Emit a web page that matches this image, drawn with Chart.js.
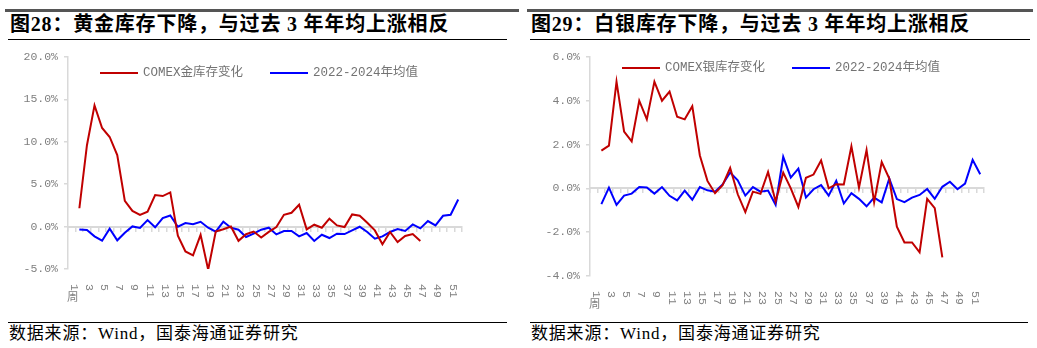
<!DOCTYPE html>
<html>
<head>
<meta charset="utf-8">
<script src="https://cdn.jsdelivr.net/npm/chart.js@4.4.1/dist/chart.umd.min.js"></script>
<style>
  body { margin: 0; background: #fff; }
  #page { position: relative; width: 1037px; height: 348px; overflow: hidden; background: #fff; }
  .topbar { position: absolute; top: 9px; height: 3px; background: #555; }
  .title { position: absolute; top: 11px; font: bold 20px "Liberation Serif", "Noto Sans CJK SC", serif; color: #000; white-space: nowrap; line-height: 26px; letter-spacing: 0.8px; }
  .rule { position: absolute; height: 1px; background: #000; }
  .source { position: absolute; top: 323px; font: 17px "Liberation Serif", "Noto Sans CJK SC", serif; color: #000; white-space: nowrap; line-height: 22px; letter-spacing: 0.8px; }
  canvas { position: absolute; top: 44px; }
</style>
</head>
<body>
<div id="page">
  <div class="topbar" style="left:5px;width:514px"></div>
  <div class="topbar" style="left:527px;width:506px"></div>
  <div class="title" style="left:10px">图28：黄金库存下降，与过去 3 年年均上涨相反</div>
  <div class="title" style="left:531px">图29：白银库存下降，与过去 3 年年均上涨相反</div>
  <div class="rule" style="left:8px;width:499px;top:39px"></div>
  <div class="rule" style="left:530px;width:500px;top:39px"></div>
  <canvas id="gold" width="518" height="272" style="left:0"></canvas>
  <canvas id="silver" width="519" height="272" style="left:518px"></canvas>
  <div class="rule" style="left:8px;width:499px;top:322px"></div>
  <div class="rule" style="left:530px;width:498px;top:322px"></div>
  <div class="source" style="left:9px">数据来源：Wind，国泰海通证券研究</div>
  <div class="source" style="left:531px">数据来源：Wind，国泰海通证券研究</div>
</div>
<script>
// week categories (week 1 has no reading)
const weeks = ['1周', '2', '3', '4', '5', '6', '7', '8', '9', '10', '11', '12', '13',
  '14', '15', '16', '17', '18', '19', '20', '21', '22', '23', '24', '25', '26',
  '27', '28', '29', '30', '31', '32', '33', '34', '35', '36', '37', '38', '39',
  '40', '41', '42', '43', '44', '45', '46', '47', '48', '49', '50', '51', '52'];

// gold inventory weekly change, %
const goldChange = [null, 2.16, 9.59, 14.28, 11.62, 10.56, 8.42, 3.02, 1.84, 1.37,
  1.76, 3.72, 3.60, 4.03, -1.06, -2.93, -3.40, -0.97, -5.08, -0.59, -0.31, 0.00,
  -1.68, -0.90, -0.59, -1.29, -0.62, -0.05, 1.39, 1.63, 2.57, -0.33, 0.22, -0.13,
  0.93, 0.14, -0.06, 1.43, 1.28, 0.46, -0.45, -2.09, -0.64, -1.82, -1.11, -0.88, -1.70];
const goldAvg = [null, -0.33, -0.41, -1.15, -1.66, -0.25, -1.62, -0.72, 0.02, -0.17,
  0.77, -0.09, 1.00, 1.31, -0.02, 0.41, 0.29, 0.57, -0.13, -0.60, 0.57, -0.13,
  -0.37, -1.23, -0.84, -0.37, -0.13, -0.92, -0.52, -0.52, -1.15, -0.76, -1.70,
  -0.96, -1.35, -0.84, -0.88, -0.45, -0.02, -0.64, -1.43, -1.15, -0.64, -0.29,
  -0.52, 0.26, -0.21, 0.65, 0.14, 1.27, 1.39, 3.19];

// silver inventory weekly change, %
const silverChange = [null, 1.72, 1.95, 4.87, 2.59, 2.14, 4.00, 3.15, 4.87, 4.00,
  4.42, 3.27, 3.15, 3.75, 1.50, 0.34, -0.22, 0.15, 0.93, -0.27, -1.08, -0.15,
  -0.25, 0.75, -0.60, 0.72, 0.00, -0.85, 0.48, 0.63, 1.27, 0.00, 0.19, 0.18,
  1.92, 0.03, 1.75, -0.63, 1.20, 0.45, -1.75, -2.47, -2.47, -2.92, -0.48, -0.90, -3.15];
const silverAvg = [null, -0.72, 0.03, -0.75, -0.33, -0.24, 0.06, 0.04, -0.24, 0.06,
  -0.34, -0.55, -0.10, -0.52, 0.06, -0.09, -0.15, 0.18, 0.72, 0.37, -0.33, 0.06,
  -0.15, -0.10, -0.75, 1.44, 0.49, 0.90, -0.42, -0.04, 0.15, -0.33, 0.34, -0.69,
  -0.22, -0.48, -0.82, -0.42, -0.64, 0.45, -0.49, -0.63, -0.42, -0.30, -0.03,
  -0.48, 0.07, 0.30, -0.04, 0.22, 1.30, 0.64];

const RED = '#c00000';
const BLUE = '#0000ff';
const AXIS_GREY = '#d9d9d9';
const TEXT_GREY = '#7f7f7f';
const MONO = '"Liberation Mono", "Noto Sans CJK SC", monospace';

// legend sitting inside the plot area
const insideLegend = {
  id: 'insideLegend',
  afterDatasetsDraw(chart, args, opts) {
    const ctx = chart.ctx;
    const area = chart.chartArea;
    let x = area.left + opts.left;
    const y = area.top + opts.top;
    ctx.save();
    ctx.font = '12.5px ' + MONO;
    ctx.textBaseline = 'middle';
    ctx.fillStyle = '#737373';
    chart.data.datasets.forEach(ds => {
      ctx.strokeStyle = ds.borderColor;
      ctx.lineWidth = ds.borderWidth;
      ctx.beginPath();
      ctx.moveTo(x, y);
      ctx.lineTo(x + 38, y);
      ctx.stroke();
      x += 43;
      ctx.fillText(ds.label, x, y);
      x += ctx.measureText(ds.label).width + 27;
    });
    ctx.restore();
  }
};

// vertical week labels under the plot, every other week
const weekLabels = {
  id: 'weekLabels',
  afterDraw(chart) {
    const xs = chart.scales.x;
    const ctx = chart.ctx;
    const top = chart.chartArea.bottom + 15;
    ctx.save();
    ctx.font = '11.5px ' + MONO;
    ctx.fillStyle = TEXT_GREY;
    chart.data.labels.forEach((lab, i) => {
      if (i % 2) return;
      const px = xs.getPixelForValue(i) + 2;
      const digits = lab.replace('周', '');
      ctx.save();
      ctx.translate(px, top);
      ctx.rotate(Math.PI / 2);
      ctx.textAlign = 'left';
      ctx.textBaseline = 'middle';
      ctx.fillText(digits, 0, 0);
      const w = ctx.measureText(digits).width;
      ctx.restore();
      if (lab.endsWith('周')) {
        ctx.textAlign = 'center';
        ctx.textBaseline = 'top';
        ctx.fillText('周', px - 1, top + w + 1);
      }
    });
    ctx.restore();
  }
};

function makeChart(canvas, changeLabel, change, avg, box) {
  return new Chart(canvas, {
    type: 'line',
    data: {
      labels: weeks,
      datasets: [
        { label: changeLabel, data: change, borderColor: RED, backgroundColor: RED,
          borderWidth: 2, pointRadius: 0, tension: 0, xAxisID: 'x' },
        { label: '2022-2024年均值', data: avg, borderColor: BLUE, backgroundColor: BLUE,
          borderWidth: 2, pointRadius: 0, tension: 0, xAxisID: 'x' }
      ]
    },
    options: {
      responsive: false,
      animation: false,
      devicePixelRatio: 1,
      layout: { padding: { top: box.top, right: box.right, bottom: 0, left: 0 } },
      plugins: {
        legend: { display: false },
        tooltip: { enabled: false },
        insideLegend: { left: 32, top: box.legendTop }
      },
      scales: {
        x: {
          type: 'category',
          offset: true,
          grid: { display: false },
          border: { display: false },
          ticks: { display: false },
          afterFit: s => { s.height = box.bottom; }
        },
        zero: {
          type: 'category',
          axis: 'x',
          position: { y: 0 },
          offset: true,
          grid: { offset: true, drawOnChartArea: false, tickLength: 4, color: AXIS_GREY, lineWidth: 1.5 },
          border: { color: AXIS_GREY, width: 2 },
          ticks: { display: false }
        },
        y: {
          min: box.min,
          max: box.max,
          grid: { drawOnChartArea: false, tickLength: 4, color: AXIS_GREY, lineWidth: 1.5 },
          border: { color: AXIS_GREY, width: 1.5 },
          ticks: {
            stepSize: box.step,
            padding: 6,
            color: TEXT_GREY,
            font: { family: MONO, size: 11.5 },
            callback: v => v.toFixed(1) + '%'
          },
          afterFit: s => { s.width = box.left; }
        }
      }
    },
    plugins: [insideLegend, weekLabels]
  });
}

makeChart(document.getElementById('gold'), 'COMEX金库存变化', goldChange, goldAvg,
  { left: 68, right: 56, top: 12, bottom: 47, min: -5, max: 20, step: 5, legendTop: 16 });
makeChart(document.getElementById('silver'), 'COMEX银库存变化', silverChange, silverAvg,
  { left: 72, right: 53, top: 10, bottom: 40, min: -4, max: 6, step: 2, legendTop: 11 });
</script>
</body>
</html>
